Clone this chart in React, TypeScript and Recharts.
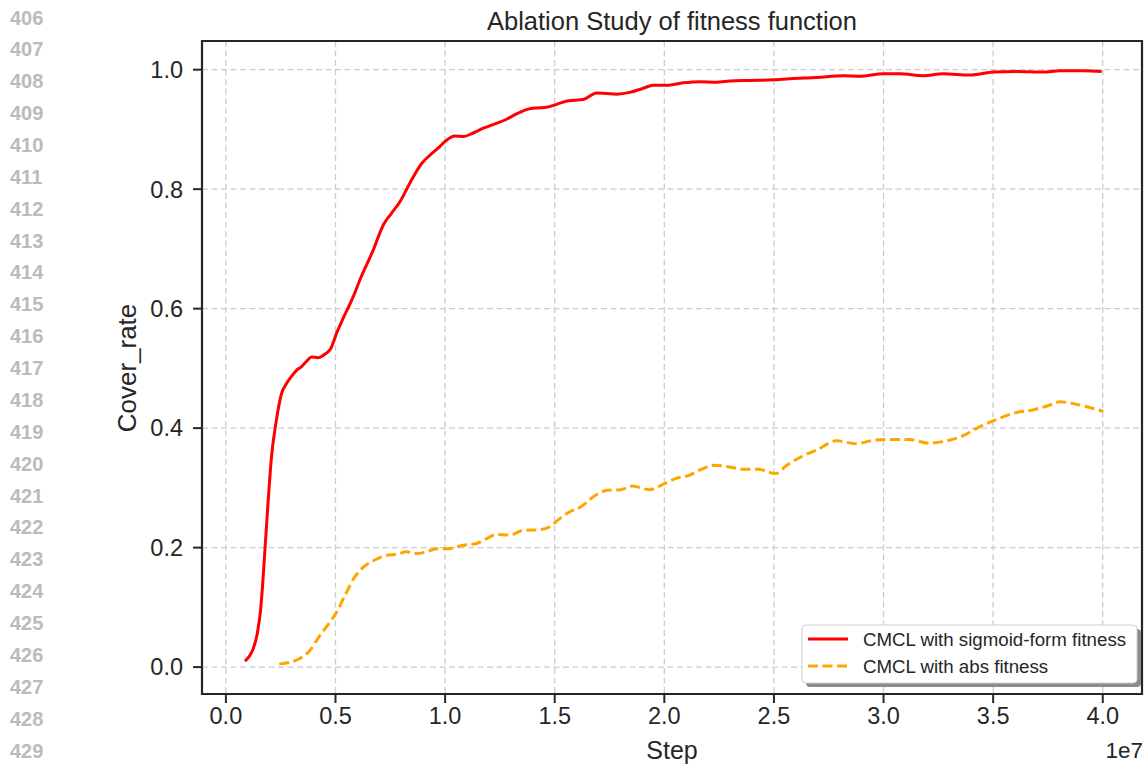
import React from 'react';
import { LineChart, Line, XAxis, YAxis, CartesianGrid, ReferenceArea } from 'recharts';

const FONT = '"Liberation Sans", Arial, Helvetica, sans-serif';
const INK = '#262626';

// steps (x1e7) and cover rate
const sigmoidSteps = [
  0.087, 0.11, 0.125, 0.143, 0.158, 0.168, 0.178, 0.193, 0.208, 0.228, 0.254, 0.277, 0.3, 0.323,
  0.345, 0.368, 0.391, 0.421, 0.452, 0.478, 0.505, 0.535, 0.581, 0.611, 0.672, 0.718, 0.756, 0.794,
  0.839, 0.893, 0.931, 0.969, 1.0, 1.045, 1.083, 1.128, 1.174, 1.219, 1.28, 1.326, 1.379, 1.417,
  1.463, 1.509, 1.562, 1.63, 1.691, 1.737, 1.782, 1.843, 1.904, 1.949, 2.011, 2.086, 2.162, 2.238,
  2.299, 2.391, 2.497, 2.573, 2.695, 2.816, 2.892, 2.999, 3.075, 3.181, 3.272, 3.394, 3.5, 3.607,
  3.728, 3.805, 3.911, 3.995,
];
const sigmoidRate = [
  0.01, 0.02, 0.031, 0.056, 0.095, 0.14, 0.196, 0.279, 0.352, 0.408, 0.458, 0.475, 0.487, 0.497,
  0.503, 0.512, 0.519, 0.518, 0.524, 0.533, 0.559, 0.584, 0.62, 0.648, 0.698, 0.74, 0.76, 0.779,
  0.81, 0.843, 0.857, 0.869, 0.88, 0.889, 0.888, 0.894, 0.902, 0.908, 0.917, 0.926, 0.934, 0.936,
  0.937, 0.942, 0.948, 0.95, 0.961, 0.96, 0.959, 0.962, 0.969, 0.974, 0.974, 0.978, 0.98, 0.979,
  0.981, 0.982, 0.983, 0.985, 0.987, 0.99, 0.989, 0.993, 0.993, 0.99, 0.993, 0.991, 0.996, 0.997,
  0.996, 0.998, 0.998, 0.997,
];

const absSteps = [
  0.243, 0.292, 0.345, 0.383, 0.429, 0.474, 0.505, 0.543, 0.588, 0.626, 0.672, 0.733, 0.779, 0.824,
  0.87, 0.916, 0.961, 1.007, 1.083, 1.144, 1.189, 1.235, 1.296, 1.356, 1.432, 1.478, 1.524, 1.569,
  1.618, 1.688, 1.74, 1.801, 1.853, 1.932, 2.001, 2.053, 2.106, 2.175, 2.228, 2.297, 2.367, 2.428,
  2.507, 2.559, 2.629, 2.698, 2.786, 2.873, 2.96, 3.03, 3.117, 3.204, 3.291, 3.361, 3.431, 3.5,
  3.605, 3.675, 3.745, 3.805, 3.866, 3.936, 4.002,
];
const absRate = [
  0.005, 0.008, 0.016, 0.028, 0.053, 0.075, 0.092, 0.12, 0.151, 0.167, 0.178, 0.187, 0.189, 0.193,
  0.19, 0.193, 0.198, 0.198, 0.204, 0.207, 0.215, 0.222, 0.221, 0.229, 0.23, 0.235, 0.249, 0.26,
  0.268, 0.288, 0.296, 0.297, 0.303, 0.297, 0.307, 0.316, 0.32, 0.332, 0.338, 0.335, 0.331, 0.331,
  0.324, 0.338, 0.353, 0.364, 0.379, 0.374, 0.38, 0.381, 0.381, 0.375, 0.379, 0.387, 0.401, 0.412,
  0.426, 0.43, 0.437, 0.444, 0.441, 0.435, 0.428,
];

const xTicks = [0, 0.5e7, 1.0e7, 1.5e7, 2.0e7, 2.5e7, 3.0e7, 3.5e7, 4.0e7];
const yTicks = [0, 0.2, 0.4, 0.6, 0.8, 1.0];
const xDomain = [-0.109e7, 4.179e7];
const yDomain = [-0.045, 1.048];

const lineNumbers = [
  '406', '407', '408', '409', '410', '411', '412', '413', '414', '415', '416', '417',
  '418', '419', '420', '421', '422', '423', '424', '425', '426', '427', '428', '429',
];

const sigmoidData = sigmoidSteps.map((s, i) => ({ step: s * 1e7, rate: sigmoidRate[i] }));
const absData = absSteps.map((s, i) => ({ step: s * 1e7, rate: absRate[i] }));

const tickStyle = { fill: INK, fontSize: 23.5, fontFamily: FONT };

export default function App() {
  return (
    <div style={{ position: 'absolute', left: 0, top: 0, width: 1148, height: 769, background: '#fff' }}>
      <LineChart width={1148} height={769} margin={{ top: 41, right: 6, left: 0, bottom: 0 }}>
        <CartesianGrid stroke="#cccccc" strokeWidth={1.3} strokeDasharray="6 3.5" />
        <XAxis
          type="number"
          dataKey="step"
          domain={xDomain}
          allowDataOverflow
          ticks={xTicks}
          tickFormatter={(v: number) => (v / 1e7).toFixed(1)}
          height={75}
          axisLine={false}
          tickLine={{ stroke: INK, strokeWidth: 2 }}
          tickSize={9}
          tickMargin={4}
          tick={tickStyle}
        />
        <YAxis
          type="number"
          domain={yDomain}
          allowDataOverflow
          ticks={yTicks}
          tickFormatter={(v: number) => v.toFixed(1)}
          width={202}
          axisLine={false}
          tickLine={{ stroke: INK, strokeWidth: 2 }}
          tickSize={9}
          tickMargin={10}
          tick={tickStyle}
        />
        <Line
          data={sigmoidData}
          dataKey="rate"
          type="monotone"
          stroke="#ff0000"
          strokeWidth={3}
          dot={false}
          isAnimationActive={false}
        />
        <Line
          data={absData}
          dataKey="rate"
          type="monotone"
          stroke="#ffa500"
          strokeWidth={3}
          strokeDasharray="10 4.5"
          dot={false}
          isAnimationActive={false}
        />
        <ReferenceArea
          x1={xDomain[0]}
          x2={xDomain[1]}
          y1={yDomain[0]}
          y2={yDomain[1]}
          fill="none"
          stroke={INK}
          strokeWidth={2.2}
          ifOverflow="visible"
        />
      </LineChart>

      <svg
        width={1148}
        height={769}
        style={{ position: 'absolute', left: 0, top: 0, pointerEvents: 'none' }}
        fontFamily={FONT}
      >
        {lineNumbers.map((n, i) => (
          <text key={n} x={10} y={24.5 + i * 31.87} fontSize={20} fontWeight="bold" fill="#bbbbbb">
            {n}
          </text>
        ))}
        <text x={672} y={29.5} textAnchor="middle" fontSize={25.5} fill={INK}>
          Ablation Study of fitness function
        </text>
        <text x={672} y={759} textAnchor="middle" fontSize={25} fill={INK}>
          Step
        </text>
        <text
          x={136}
          y={368}
          textAnchor="middle"
          fontSize={26}
          fill={INK}
          transform="rotate(-90 136 368)"
        >
          Cover_rate
        </text>
        <text x={1143} y={758} textAnchor="end" fontSize={22.5} fill={INK}>
          1e7
        </text>

        {/* legend */}
        <rect x={806} y={629} width={335} height={58} rx={4} fill="#8c8c8c" />
        <rect x={802} y={625} width={335} height={58} rx={4} fill="#ffffff" stroke="#d0d0d0" strokeWidth={1} />
        <line x1={808} y1={639} x2={848} y2={639} stroke="#ff0000" strokeWidth={3} />
        <line x1={808} y1={666} x2={848} y2={666} stroke="#ffa500" strokeWidth={3} strokeDasharray="10 4.5" />
        <text x={863} y={645.5} fontSize={18.7} fill={INK}>
          CMCL with sigmoid-form fitness
        </text>
        <text x={863} y={672.5} fontSize={18.7} fill={INK}>
          CMCL with abs fitness
        </text>
      </svg>
    </div>
  );
}
